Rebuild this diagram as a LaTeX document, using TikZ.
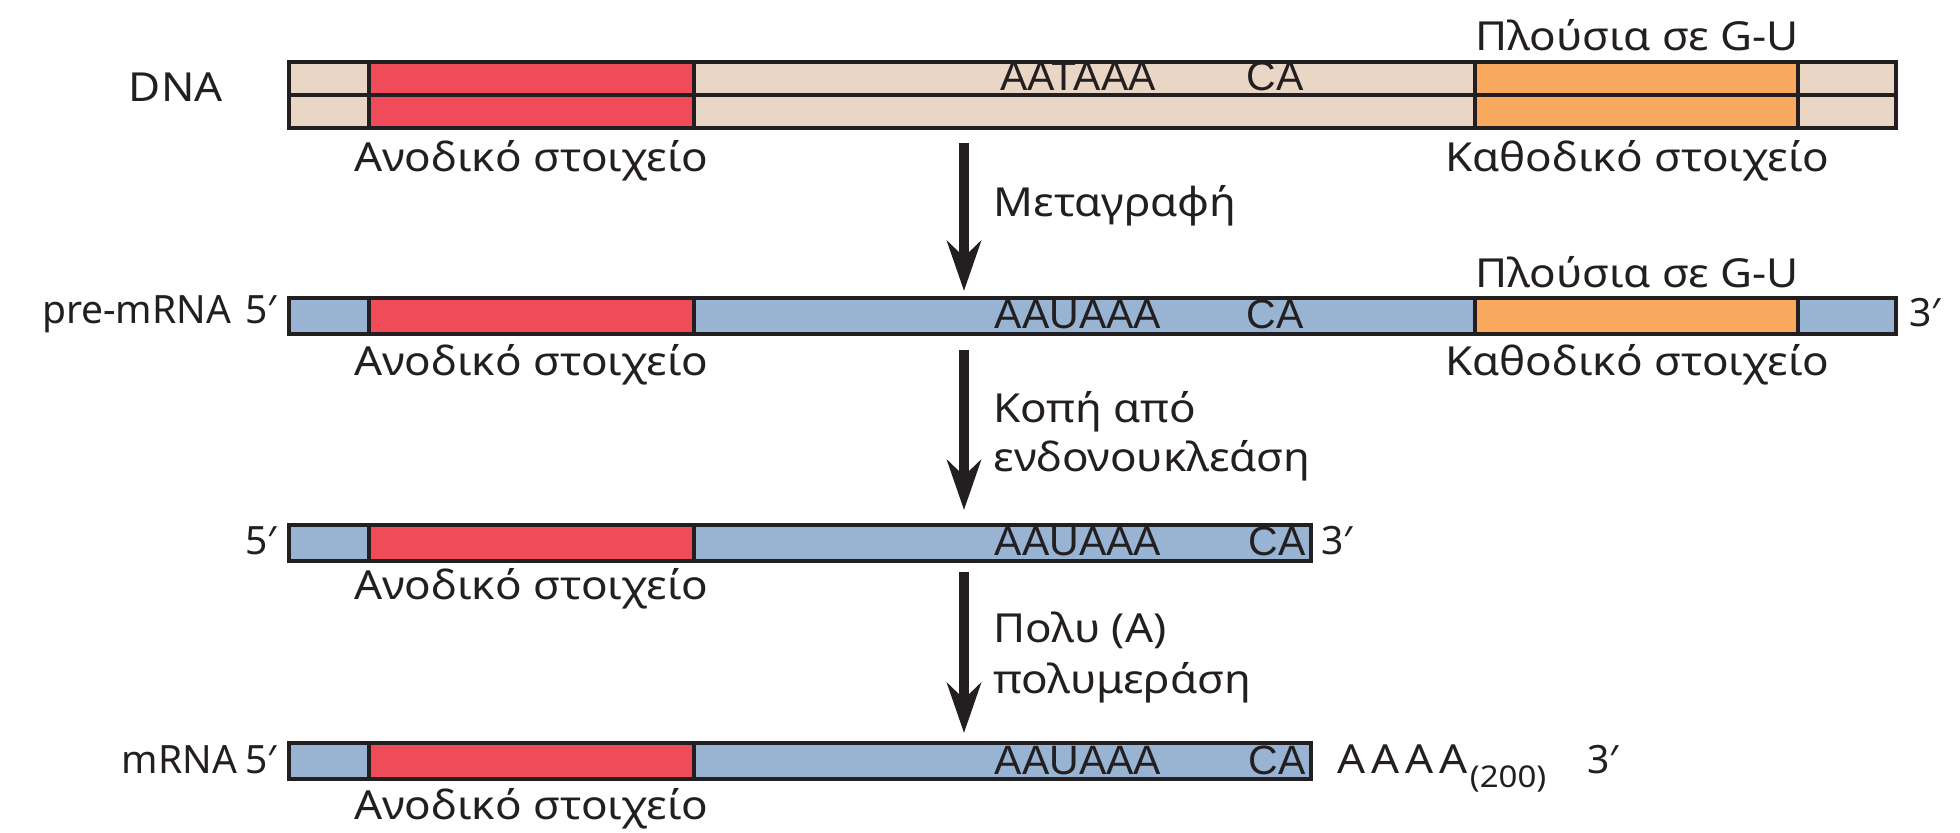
\documentclass[tikz,border=0pt]{standalone}
\usepackage{fontspec}
\setmainfont{Noto Sans}
\newfontfamily\widefont[FakeStretch=1.1]{Noto Sans}
\newfontfamily\seqfont{Liberation Sans}
\usetikzlibrary{arrows.meta}
\definecolor{dnabg}{HTML}{EAD6C5}
\definecolor{rnabg}{HTML}{98B4D2}
\definecolor{upred}{HTML}{EF4B59}
\definecolor{downor}{HTML}{F8A95D}
\definecolor{edge}{HTML}{231F20}
\begin{document}
\begin{tikzpicture}[x=0.5pt,y=-0.5pt,
  bar/.style={draw=edge,line width=2pt},
  lbl/.style={inner sep=0pt,text=edge,font=\fontsize{19.5}{23}\selectfont},
  glbl/.style={inner sep=0pt,text=edge,font=\widefont\fontsize{20}{24}\selectfont},
  seq/.style={inner sep=0pt,text=edge,font=\seqfont\fontsize{20.5}{23}\selectfont},
  flow/.style={line width=5pt,draw=edge,-{Stealth[length=25pt,width=17pt,inset=8pt]}}]
\useasboundingbox (0,0) rectangle (1960,833);

% ---------- DNA ----------
\filldraw[bar,fill=dnabg] (289,62) rectangle (1896,128);
\filldraw[bar,fill=upred] (369,62) rectangle (694,128);
\filldraw[bar,fill=downor] (1475,62) rectangle (1798,128);
\draw[bar] (289,95) -- (1896,95);
\draw[bar] (289,62) rectangle (1896,128);
\node[glbl,anchor=base east] (dnalbl) at (223,102) {DNA};
\node[seq,anchor=base] (dnaaat) at (1078,91) {AATAAA};
\node[seq,anchor=base] (dnaca) at (1275,91) {CA};
\node[glbl,anchor=base] (dnagu) at (1637,51) {Πλούσια σε G-U};
\node[glbl,anchor=base] (dnaup) at (531,172) {Ανοδικό στοιχείο};
\node[glbl,anchor=base] (dnadown) at (1637,172) {Καθοδικό στοιχείο};

% ---------- pre-mRNA ----------
\filldraw[bar,fill=rnabg] (289,298) rectangle (1896,334);
\filldraw[bar,fill=upred] (369,298) rectangle (694,334);
\filldraw[bar,fill=downor] (1475,298) rectangle (1798,334);
\draw[bar] (289,298) rectangle (1896,334);
\node[lbl,anchor=base east] (prelbl) at (277,324) {pre-mRNA\hspace{7pt}5′};
\node[lbl,anchor=base west] (pre3) at (1909,327) {3′};
\node[seq,anchor=base] (preaau) at (1078,329) {AAUAAA};
\node[seq,anchor=base] (preca) at (1275,329) {CA};
\node[glbl,anchor=base] (pregu) at (1637,288) {Πλούσια σε G-U};
\node[glbl,anchor=base] (preup) at (531,376) {Ανοδικό στοιχείο};
\node[glbl,anchor=base] (predown) at (1637,376) {Καθοδικό στοιχείο};

% ---------- cleaved ----------
\filldraw[bar,fill=rnabg] (289,525) rectangle (1311,561);
\filldraw[bar,fill=upred] (369,525) rectangle (694,561);
\draw[bar] (289,525) rectangle (1311,561);
\node[lbl,anchor=base east] (cut5) at (277,555) {5′};
\node[lbl,anchor=base west] (cut3) at (1321,555) {3′};
\node[seq,anchor=base] (cutaau) at (1078,556) {AAUAAA};
\node[seq,anchor=base] (cutca) at (1277,556) {CA};
\node[glbl,anchor=base] (cutup) at (531,600) {Ανοδικό στοιχείο};

% ---------- mRNA ----------
\filldraw[bar,fill=rnabg] (289,743) rectangle (1311,779);
\filldraw[bar,fill=upred] (369,743) rectangle (694,779);
\draw[bar] (289,743) rectangle (1311,779);
\node[lbl,anchor=base east] (mlbl) at (277,773) {mRNA\hspace{4pt}5′};
\node[seq,anchor=base] (maau) at (1078,774) {AAUAAA};
\node[seq,anchor=base] (mca) at (1277,774) {CA};
\node[glbl,anchor=base west] (mpoly) at (1337,773) {A\hspace{3pt}A\hspace{3pt}A\hspace{3pt}A\hspace{1pt}\raisebox{-7pt}{\widefont\fontsize{15}{17}\selectfont(200)}};
\node[lbl,anchor=base west] (m3) at (1587,773) {3′};
\node[glbl,anchor=base] (mup) at (531,819) {Ανοδικό στοιχείο};

% ---------- arrows ----------
\coordinate (a1s) at (964,143);
\coordinate (a1e) at (964,291);
\coordinate (a2s) at (964,350);
\coordinate (a2e) at (964,510);
\coordinate (a3s) at (964,572);
\coordinate (a3e) at (964,733);
\draw[flow] (a1s) -- (a1e);
\draw[flow] (a2s) -- (a2e);
\draw[flow] (a3s) -- (a3e);
\node[glbl,anchor=base west] (st1) at (993,217) {Μεταγραφή};
\node[glbl,anchor=base west] (st2a) at (993,423) {Κοπή από};
\node[glbl,anchor=base west] (st2b) at (993,472) {ενδονουκλεάση};
\node[glbl,anchor=base west] (st3a) at (993,643) {Πολυ (Α)};
\node[glbl,anchor=base west] (st3b) at (993,693) {πολυμεράση};
\end{tikzpicture}
\end{document}
